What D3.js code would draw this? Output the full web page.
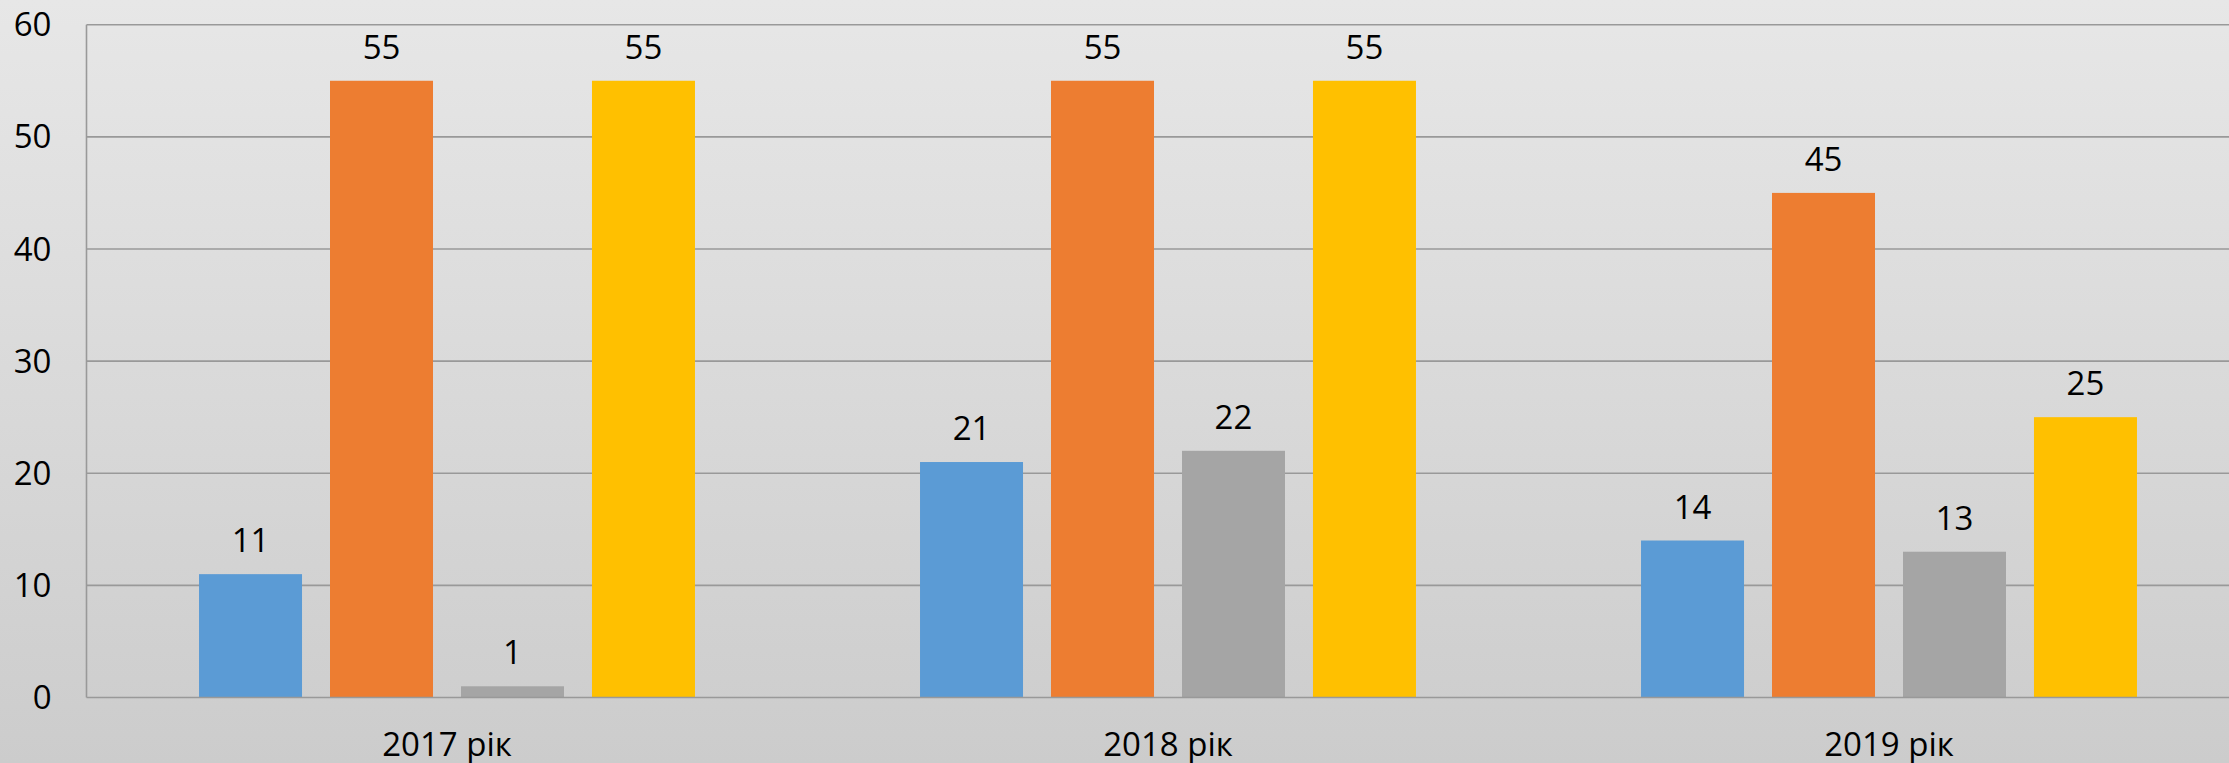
<!DOCTYPE html>
<html>
<head>
<meta charset="utf-8">
<script src="https://cdn.jsdelivr.net/npm/d3@7"></script>
<style>
  body { margin: 0; overflow: hidden; }
  svg { display: block; font-family: "Open Sans", sans-serif; }
</style>
</head>
<body>
<div class="chart"></div>
<script>
var width = 2229;
var height = 763;

// data
var years = ["2017 рік", "2018 рік", "2019 рік"];
var seriesNames = ["s1", "s2", "s3", "s4"];
var s1 = [11, 21, 14];
var s2 = [55, 55, 45];
var s3 = [1, 22, 13];
var s4 = [55, 55, 25];
var yTicks = [0, 10, 20, 30, 40, 50, 60];
var colors = ["#5B9BD5", "#ED7D31", "#A5A5A5", "#FFC000"];

var allSeries = [s1, s2, s3, s4];
var rows = years.map(function(y, i) {
  return { year: y, values: allSeries.map(function(s, j) { return { key: seriesNames[j], value: s[i] }; }) };
});

// note: "top" is taken by window.top, so use other names
var plotLeft = 86.5, plotTop = 24.7, plotBottom = 697.5;
var plotWidth = 2163; // plot runs past the right edge of the picture

var svg = d3.select(".chart").append("svg")
    .attr("width", width)
    .attr("height", height);

var grad = svg.append("defs").append("linearGradient")
    .attr("id", "bg").attr("x1", 0).attr("y1", 0).attr("x2", 0).attr("y2", 1);
grad.append("stop").attr("offset", "0%").attr("stop-color", "#e7e7e7");
grad.append("stop").attr("offset", "100%").attr("stop-color", "#cccccc");

svg.append("rect").attr("width", width).attr("height", height).attr("fill", "url(#bg)");

var x0 = d3.scaleBand().domain(years).range([plotLeft, plotLeft + plotWidth]).padding(0);
var x1 = d3.scaleBand().domain(seriesNames).range([0, x0.bandwidth()])
    .paddingInner(0.2137).paddingOuter(0.859);
var y = d3.scaleLinear().domain([0, 60]).range([plotBottom, plotTop]);

// gridlines
svg.append("g")
    .selectAll("line")
    .data(yTicks.filter(function(d) { return d > 0; }))
    .enter().append("line")
    .attr("x1", plotLeft).attr("x2", width)
    .attr("y1", function(d) { return y(d); })
    .attr("y2", function(d) { return y(d); })
    .attr("stroke", "#999")
    .attr("stroke-width", 1.6);

// y tick labels
svg.append("g")
    .selectAll("text")
    .data(yTicks)
    .enter().append("text")
    .attr("x", plotLeft - 35)
    .attr("y", function(d) { return y(d); })
    .attr("dy", "0.35em")
    .attr("text-anchor", "end")
    .attr("font-size", 33)
    .attr("fill", "#000")
    .text(function(d) { return d; });

// bars
var groups = svg.append("g")
    .selectAll("g")
    .data(rows)
    .enter().append("g")
    .attr("transform", function(d) { return "translate(" + x0(d.year) + ",0)"; });

groups.selectAll("rect")
    .data(function(d) { return d.values; })
    .enter().append("rect")
    .attr("x", function(d) { return x1(d.key); })
    .attr("y", function(d) { return y(d.value); })
    .attr("width", x1.bandwidth())
    .attr("height", function(d) { return plotBottom - y(d.value); })
    .attr("fill", function(d, i) { return colors[i]; });

groups.selectAll("text")
    .data(function(d) { return d.values; })
    .enter().append("text")
    .attr("x", function(d) { return x1(d.key) + x1.bandwidth() / 2; })
    .attr("y", function(d) { return y(d.value) - 22; })
    .attr("text-anchor", "middle")
    .attr("font-size", 33)
    .attr("fill", "#000")
    .text(function(d) { return d.value; });

// axis lines
svg.append("line")
    .attr("x1", plotLeft).attr("x2", plotLeft)
    .attr("y1", plotTop).attr("y2", plotBottom)
    .attr("stroke", "#999").attr("stroke-width", 1.6);
svg.append("line")
    .attr("x1", plotLeft).attr("x2", width)
    .attr("y1", plotBottom).attr("y2", plotBottom)
    .attr("stroke", "#999").attr("stroke-width", 1.6);

// category labels
svg.append("g")
    .selectAll("text")
    .data(years)
    .enter().append("text")
    .attr("x", function(d) { return x0(d) + x0.bandwidth() / 2; })
    .attr("y", 756)
    .attr("text-anchor", "middle")
    .attr("font-size", 33)
    .attr("fill", "#000")
    .text(function(d) { return d; });
</script>
</body>
</html>
